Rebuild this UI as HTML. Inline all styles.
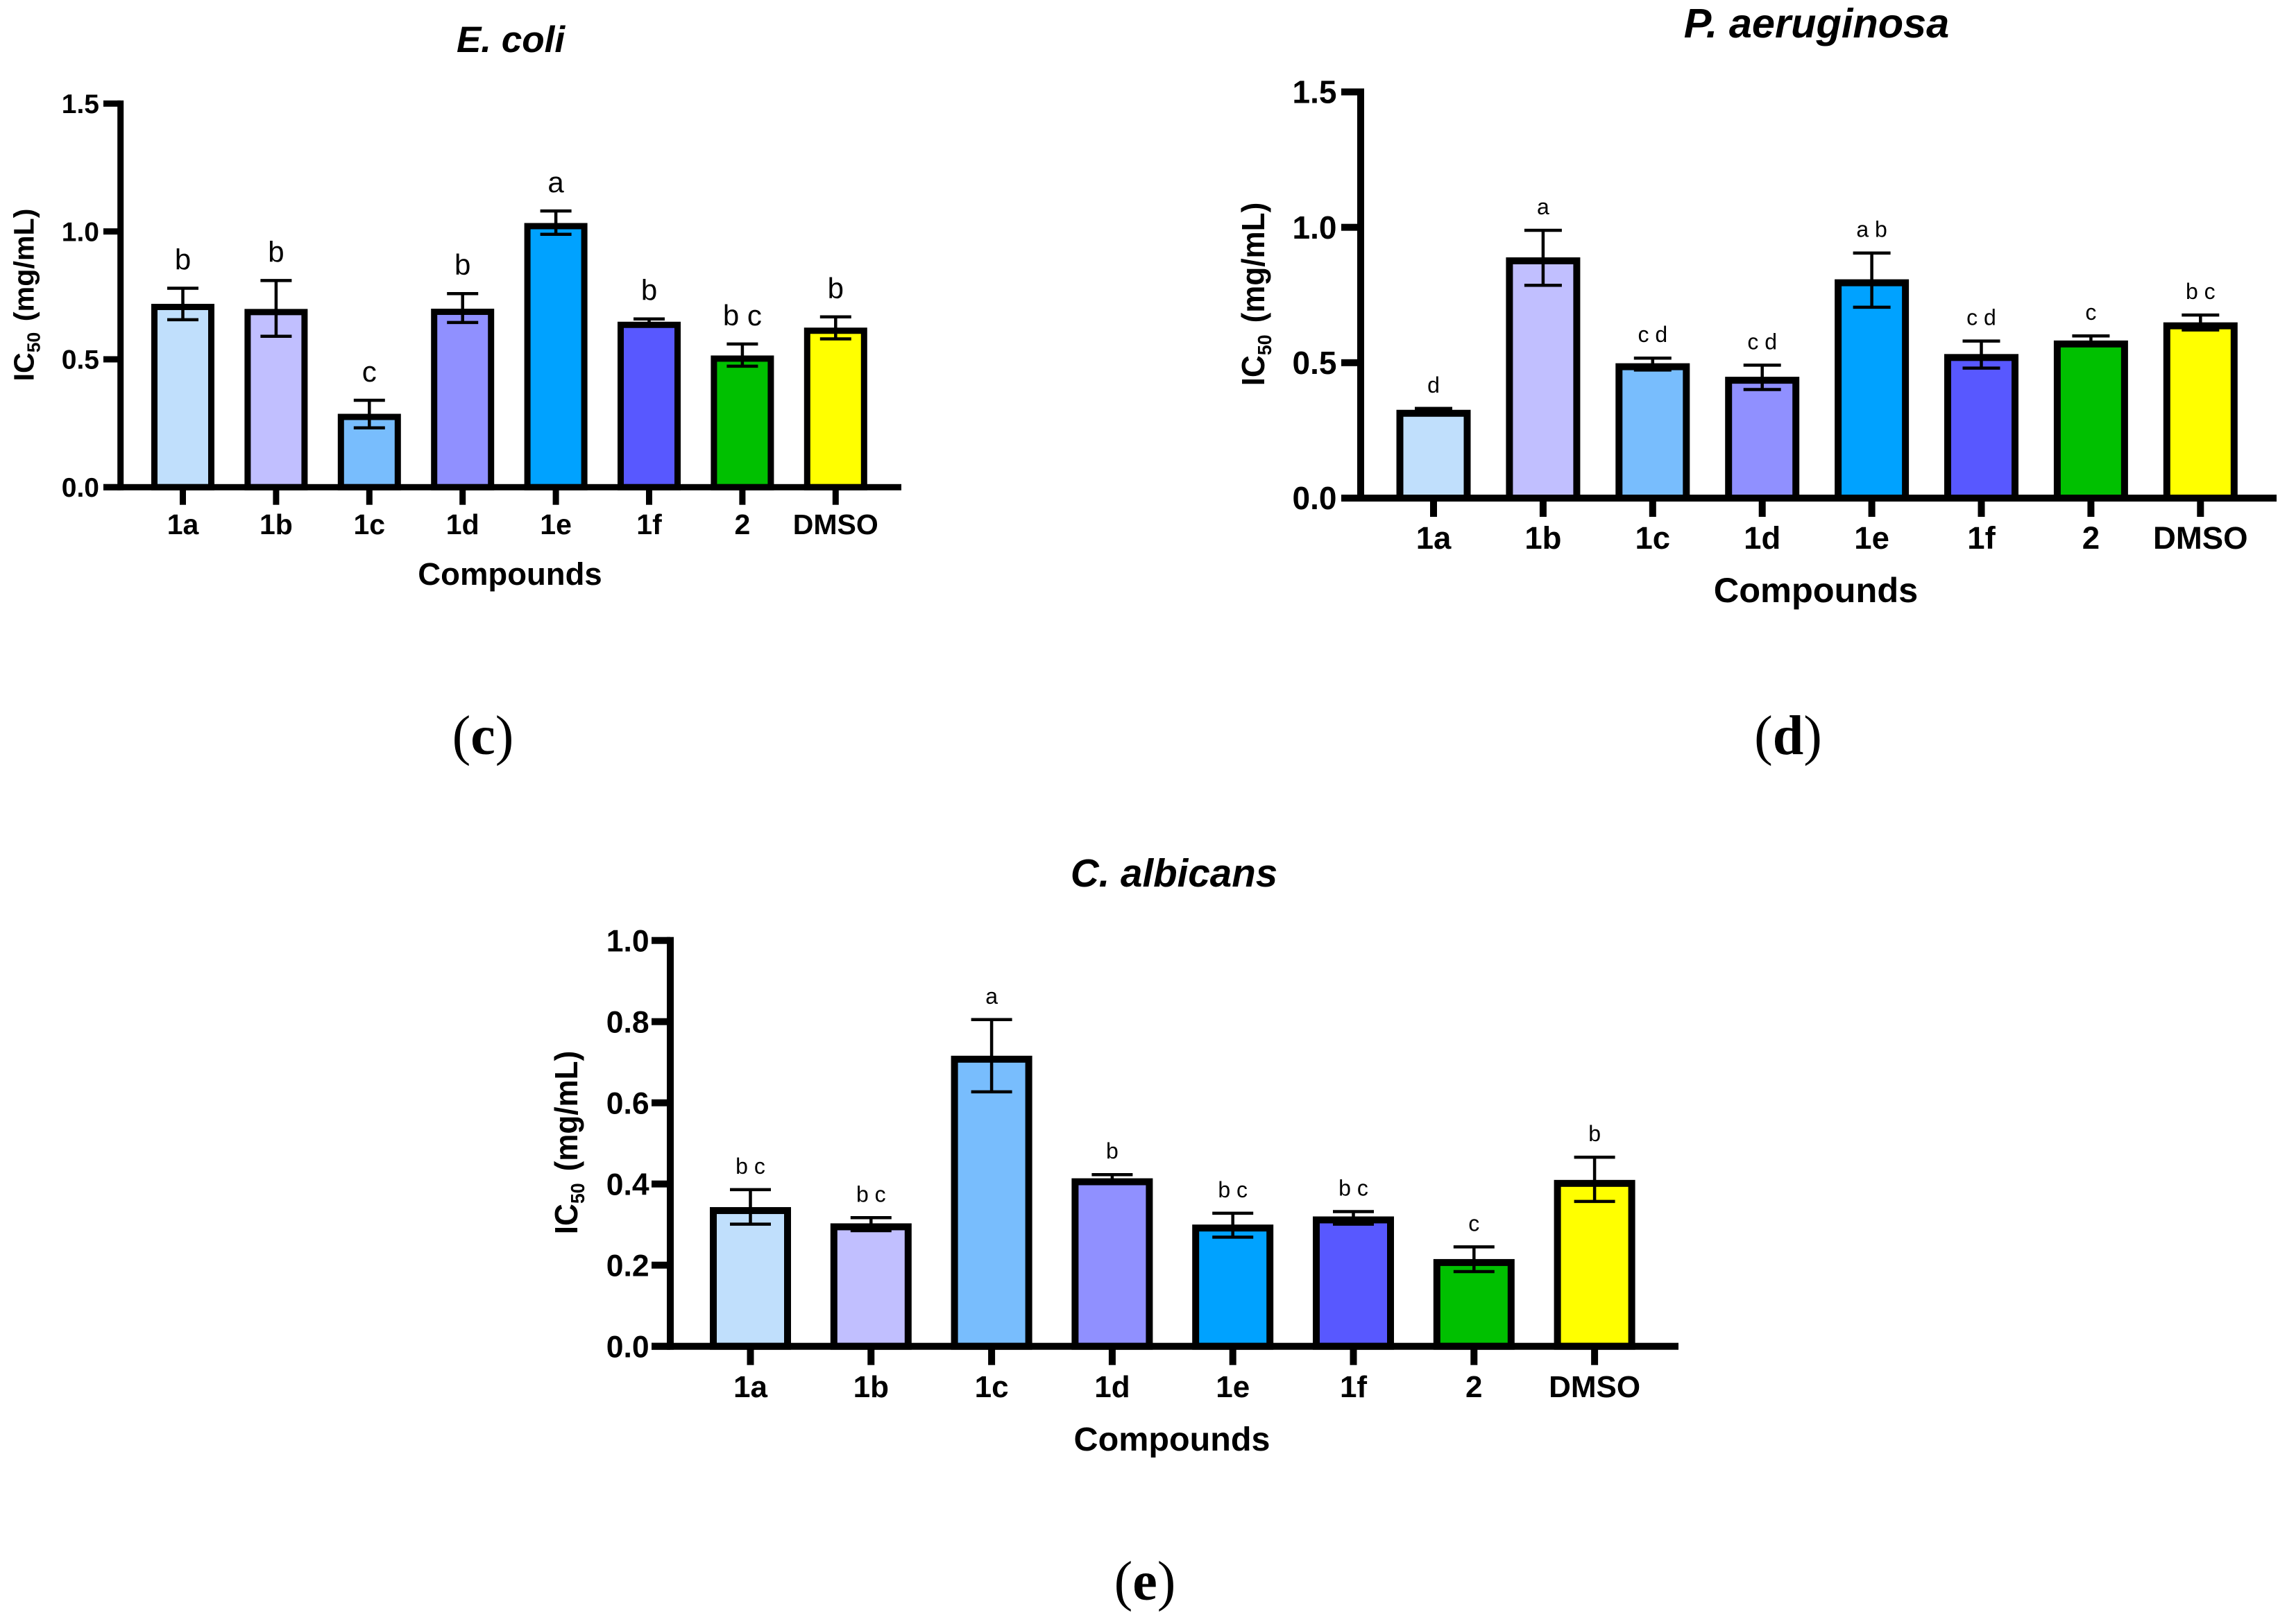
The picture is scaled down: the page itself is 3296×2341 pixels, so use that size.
<!DOCTYPE html>
<html>
<head>
<meta charset="utf-8">
<title>IC50 bar charts</title>
<style>
html,body{margin:0;padding:0;background:#fff;}
svg{display:block;}
text{font-family:"Liberation Sans",Arial,sans-serif;fill:#000;}
.serif{font-family:"Liberation Serif","Times New Roman",serif;}
</style>
</head>
<body>
<svg id="figure" xmlns="http://www.w3.org/2000/svg" width="3296" height="2341" viewBox="0 0 3296 2341">
  <rect x="0" y="0" width="3296" height="2341" fill="#ffffff"/>
  <g id="chart-c"></g>
  <g id="chart-d"></g>
  <g id="chart-e"></g>

  <text x="736" y="75" font-size="53" font-weight="700" font-style="italic" text-anchor="middle">E. coli</text>
  <text x="2618" y="54" font-size="59.5" font-weight="700" font-style="italic" text-anchor="middle">P. aeruginosa</text>
  <text x="1692" y="1278" font-size="56.5" font-weight="700" font-style="italic" text-anchor="middle">C. albicans</text>

  <text x="735" y="843" font-size="45.5" font-weight="700" text-anchor="middle">Compounds</text>
  <text x="2617" y="868" font-size="50.5" font-weight="700" text-anchor="middle">Compounds</text>
  <text x="1689" y="2091" font-size="48.5" font-weight="700" text-anchor="middle">Compounds</text>

  <text transform="translate(48.5 425) rotate(-90) scale(1.019 1)" font-size="40.5" font-weight="700" text-anchor="middle">IC<tspan font-size="26" dy="9">50</tspan><tspan dy="-9" dx="4"> (mg/mL)</tspan></text>
  <text transform="translate(1822 424) rotate(-90) scale(0.957 1)" font-size="46" font-weight="700" text-anchor="middle">IC<tspan font-size="28" dy="10">50</tspan><tspan dy="-10" dx="5"> (mg/mL)</tspan></text>
  <text transform="translate(832 1647) rotate(-90) scale(0.957 1)" font-size="46" font-weight="700" text-anchor="middle">IC<tspan font-size="28" dy="10">50</tspan><tspan dy="-10" dx="5"> (mg/mL)</tspan></text>

  <text class="serif" x="696" y="1087" font-size="80" text-anchor="middle">(<tspan font-weight="700">c</tspan>)</text>
  <text class="serif" x="2577" y="1087" font-size="80" text-anchor="middle">(<tspan font-weight="700">d</tspan>)</text>
  <text class="serif" x="1650" y="2306" font-size="80" text-anchor="middle">(<tspan font-weight="700">e</tspan>)</text>
</svg>
<script>
const categories = ['1a', '1b', '1c', '1d', '1e', '1f', '2', 'DMSO'];
const barColors = ['#c0dffc', '#c1bfff', '#78bdfd', '#9090ff', '#00a2ff', '#5858ff', '#00c000', '#ffff00'];

const ecoliTicks = ['0.0', '0.5', '1.0', '1.5'];
const ecoliMeans = [0.717, 0.697, 0.287, 0.698, 1.033, 0.647, 0.515, 0.624];
const ecoliErrTop = [0.778, 0.808, 0.340, 0.757, 1.080, 0.658, 0.560, 0.666];
const ecoliErrBottom = [0.655, 0.590, 0.232, 0.644, 0.989, 0.636, 0.473, 0.580];
const ecoliLetters = ['b', 'b', 'c', 'b', 'a', 'b', 'b c', 'b'];

const paeruginosaTicks = ['0.0', '0.5', '1.0', '1.5'];
const paeruginosaMeans = [0.326, 0.889, 0.498, 0.448, 0.808, 0.532, 0.582, 0.649];
const paeruginosaErrTop = [0.331, 0.989, 0.517, 0.491, 0.905, 0.580, 0.599, 0.676];
const paeruginosaErrBottom = [0.317, 0.786, 0.473, 0.401, 0.705, 0.480, 0.565, 0.621];
const paeruginosaLetters = ['d', 'a', 'c d', 'c d', 'a b', 'c d', 'c', 'b c'];

const calbicansTicks = ['0.0', '0.2', '0.4', '0.6', '0.8', '1.0'];
const calbicansMeans = [0.343, 0.303, 0.716, 0.414, 0.300, 0.320, 0.215, 0.410];
const calbicansErrTop = [0.386, 0.317, 0.805, 0.423, 0.328, 0.332, 0.245, 0.466];
const calbicansErrBottom = [0.301, 0.285, 0.627, 0.405, 0.269, 0.301, 0.184, 0.357];
const calbicansLetters = ['b c', 'b c', 'a', 'b', 'b c', 'b c', 'c', 'b'];

const SVG_NS = 'http://www.w3.org/2000/svg';

function mk(tag, parent, attrs, txt) {
  const el = document.createElementNS(SVG_NS, tag);
  for (const k in attrs) el.setAttribute(k, attrs[k]);
  if (txt !== undefined) el.textContent = txt;
  parent.appendChild(el);
  return el;
}

function drawChart(o) {
  const root = document.getElementById(o.id);
  const yScale = v => o.y0 - (v / o.yMax) * (o.y0 - o.yTop);
  const xScale = i => o.x0 + o.step * i;

  // bars, error bars, significance letters
  o.means.forEach((m, i) => {
    const cx = xScale(i);
    const top = yScale(m);
    const s = o.stroke;
    const bar = mk('rect', root, {x: cx - o.barW / 2 + s / 2, y: top + s / 2, width: o.barW - s, height: o.y0 - top - s / 2, fill: barColors[i], stroke: '#000', 'stroke-width': s});
    
    

    const yHi = yScale(o.errTop[i]);
    const yLo = yScale(o.errBottom[i]);
    const stem = mk('line', root, {x1: cx, x2: cx, y1: yHi, y2: yLo, stroke: '#000', 'stroke-width': 4.5});
    
    
    const capHi = mk('line', root, {x1: cx - o.capW / 2, x2: cx + o.capW / 2, y1: yHi, y2: yHi, stroke: '#000', 'stroke-width': 4.5});
    
    
    const capLo = mk('line', root, {x1: cx - o.capW / 2, x2: cx + o.capW / 2, y1: yLo, y2: yLo, stroke: '#000', 'stroke-width': 4.5});
    
    

    const letter = mk('text', root, {x: cx, y: yHi - o.letterGap, 'font-size': o.letterSize, 'text-anchor': 'middle'}, o.letters[i]);
    
    

    const tick = mk('rect', root, {x: cx - o.axisW / 2, y: o.y0, width: o.axisW, height: o.xTickEnd - o.y0, fill: '#000'});
    
    

    const label = mk('text', root, {x: cx, y: o.xLabelY, 'font-size': o.xLabelSize, 'font-weight': 700, 'text-anchor': 'middle'}, categories[i]);
    
    
  });

  // y axis
  const yAxis = mk('rect', root, {x: o.axisX - o.axisW / 2, y: o.yTop - o.axisW / 2, width: o.axisW, height: o.y0 - o.yTop + o.axisW, fill: '#000'});
  
  

  // x axis
  const xAxis = mk('rect', root, {x: o.xStart, y: o.y0 - o.axisW / 2, width: o.xEnd - o.xStart, height: o.axisW, fill: '#000'});
  
  

  // y ticks
  o.ticks.forEach(t => {
    const y = yScale(parseFloat(t));
    const tick = mk('rect', root, {x: o.xStart, y: y - o.axisW / 2, width: o.axisX - o.xStart, height: o.axisW, fill: '#000'});
    
    
    const label = mk('text', root, {x: o.yLabelX, y: y + o.yLabelSize * 0.35, 'font-size': o.yLabelSize, 'font-weight': 700, 'text-anchor': 'end'}, t);
    
    
  });
}

drawChart({id: 'chart-c', means: ecoliMeans, errTop: ecoliErrTop, errBottom: ecoliErrBottom, letters: ecoliLetters, ticks: ecoliTicks,
  yMax: 1.5, y0: 702.3, yTop: 149.3, x0: 263.5, step: 134.4, barW: 91, stroke: 9, capW: 45, axisX: 173.7, axisW: 9, xStart: 149, xEnd: 1299, xTickEnd: 727.7,
  letterGap: 27, letterSize: 42, xLabelY: 770, xLabelSize: 41, yLabelX: 143, yLabelSize: 39});

drawChart({id: 'chart-d', means: paeruginosaMeans, errTop: paeruginosaErrTop, errBottom: paeruginosaErrBottom, letters: paeruginosaLetters, ticks: paeruginosaTicks,
  yMax: 1.5, y0: 718, yTop: 132.5, x0: 2066, step: 157.9, barW: 107, stroke: 10, capW: 54, axisX: 1961, axisW: 10, xStart: 1933, xEnd: 3281, xTickEnd: 745,
  letterGap: 23, letterSize: 32, xLabelY: 791, xLabelSize: 45.5, yLabelX: 1926.5, yLabelSize: 46});

drawChart({id: 'chart-e', means: calbicansMeans, errTop: calbicansErrTop, errBottom: calbicansErrBottom, letters: calbicansLetters, ticks: calbicansTicks,
  yMax: 1.0, y0: 1940.7, yTop: 1355.7, x0: 1081.5, step: 173.8, barW: 117, stroke: 10, capW: 59, axisX: 966, axisW: 10, xStart: 939, xEnd: 2419, xTickEnd: 1967.7,
  letterGap: 23, letterSize: 32, xLabelY: 2014, xLabelSize: 44, yLabelX: 935.6, yLabelSize: 44.5});
</script>
</body>
</html>
